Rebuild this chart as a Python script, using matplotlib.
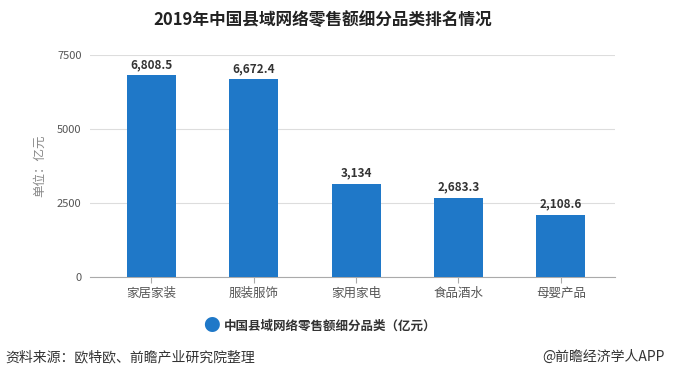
import matplotlib
matplotlib.use("Agg")
import matplotlib.pyplot as plt

plt.rcParams['font.family'] = ['Noto Sans CJK SC', 'DejaVu Sans']

categories = ["家居家装", "服装服饰", "家用家电", "食品酒水", "母婴产品"]
values = [6808.5, 6672.4, 3134, 2683.3, 2108.6]
labels = ["6,808.5", "6,672.4", "3,134", "2,683.3", "2,108.6"]
yticks = [0, 2500, 5000, 7500]

fig = plt.figure(figsize=(6.84, 3.87), dpi=100)
ax = fig.add_axes([90/684, 1-277/387, (615-90)/684, (277-55)/387])
color = "#1f78c8"
ax.bar(range(len(categories)), values, width=0.48, color=color, zorder=3)
for i, (v, l) in enumerate(zip(values, labels)):
    ax.text(i, v + 150, l, ha='center', va='bottom', fontsize=8.5, fontweight='bold', color='#333333')
ax.set_xlim(-0.60, 4.53)
ax.set_ylim(0, 7500)
ax.set_yticks(yticks)
ax.set_yticklabels([str(t) for t in yticks], fontsize=8, color='#555555')
ax.set_xticks(range(len(categories)))
ax.set_xticklabels(categories, fontsize=9, color='#555555')
ax.grid(axis='y', color='#dddddd', linewidth=0.8, zorder=0)
for s in ['top', 'right', 'left']:
    ax.spines[s].set_visible(False)
ax.spines['bottom'].set_color('#aaaaaa')
ax.tick_params(axis='y', length=0, pad=6)
ax.tick_params(axis='x', length=4, color='#aaaaaa', pad=3)
ax.set_ylabel("单位：亿元", fontsize=9, color='#888888', labelpad=8)

fig.text(323/684, 1-20/387, "2019年中国县域网络零售额细分品类排名情况", ha='center', va='center',
         fontsize=12, fontweight='bold', color='#222222')
fig.text(211/684, 1-326/387, "●", ha='center', va='center', fontsize=12, color=color)
fig.text(224/684, 1-326/387, "中国县域网络零售额细分品类（亿元）", ha='left', va='center',
         fontsize=9, fontweight='bold', color='#333333')
fig.text(5/684, 1-357/387, "资料来源：欧特欧、前瞻产业研究院整理", ha='left', va='center',
         fontsize=10, color='#333333')
fig.text(665/684, 1-357/387, "@前瞻经济学人APP", ha='right', va='center',
         fontsize=10, color='#333333')

fig.savefig("out.png", dpi=100)
